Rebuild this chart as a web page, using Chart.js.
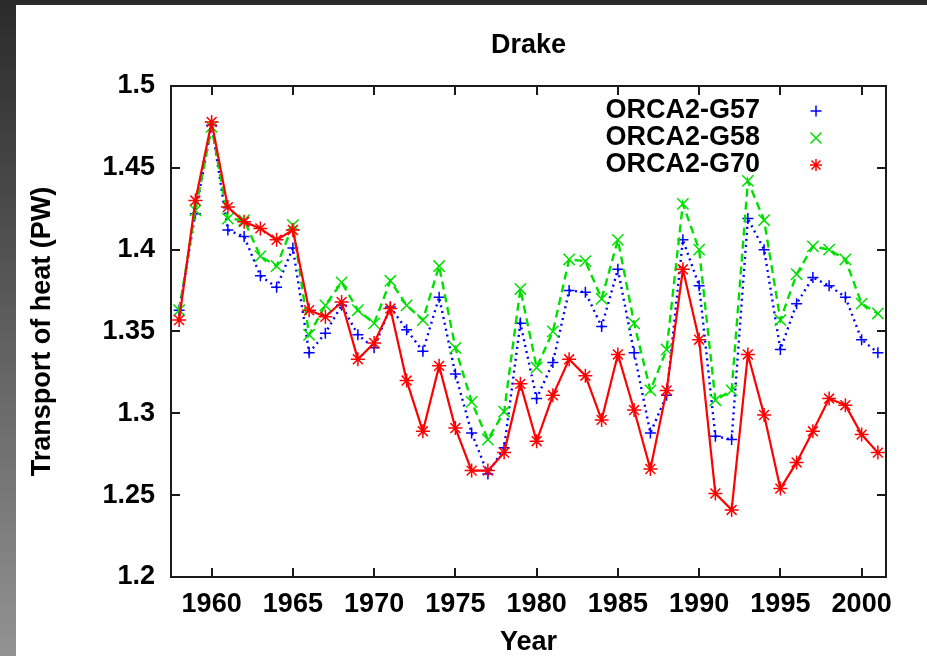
<!DOCTYPE html>
<html>
<head>
<meta charset="utf-8">
<title>Drake</title>
<script src="https://cdn.jsdelivr.net/npm/chart.js@4/dist/chart.umd.min.js"></script>
<style>
    html, body {
        margin: 0;
        padding: 0;
        width: 927px;
        height: 656px;
        overflow: hidden;
        background: linear-gradient(to bottom, #2a2a2a, #929292);
    }
    .sheet {
        position: absolute;
        left: 16px;
        top: 5px;
        width: 911px;
        height: 651px;
        background: #ffffff;
    }
</style>
</head>
<body>
<div class="sheet">
    <canvas id="drakeChart" width="911" height="651"></canvas>
</div>
<script>
// Data
const years = [
    1958, 1959, 1960, 1961, 1962, 1963, 1964, 1965, 1966, 1967, 1968,
    1969, 1970, 1971, 1972, 1973, 1974, 1975, 1976, 1977, 1978, 1979,
    1980, 1981, 1982, 1983, 1984, 1985, 1986, 1987, 1988, 1989, 1990,
    1991, 1992, 1993, 1994, 1995, 1996, 1997, 1998, 1999, 2000, 2001
];

const orcaG57 = [
    1.363, 1.422, 1.476, 1.412, 1.408, 1.384, 1.377, 1.401, 1.337, 1.349, 1.366,
    1.348, 1.340, 1.365, 1.351, 1.338, 1.371, 1.324, 1.288, 1.263, 1.279, 1.355,
    1.309, 1.331, 1.375, 1.374, 1.353, 1.388, 1.337, 1.288, 1.311, 1.406, 1.378,
    1.286, 1.284, 1.419, 1.400, 1.339, 1.367, 1.383, 1.378, 1.371, 1.345, 1.337
];

const orcaG58 = [
    1.363, 1.424, 1.475, 1.419, 1.418, 1.396, 1.390, 1.415, 1.348, 1.366, 1.380,
    1.363, 1.355, 1.381, 1.366, 1.357, 1.390, 1.340, 1.307, 1.284, 1.301, 1.376,
    1.328, 1.350, 1.394, 1.393, 1.370, 1.406, 1.355, 1.314, 1.339, 1.428, 1.400,
    1.308, 1.314, 1.442, 1.418, 1.357, 1.385, 1.402, 1.400, 1.394, 1.367, 1.361
];

const orcaG70 = [
    1.357, 1.430, 1.478, 1.426, 1.417, 1.413, 1.406, 1.412, 1.363, 1.359, 1.368,
    1.333, 1.343, 1.364, 1.320, 1.289, 1.329, 1.291, 1.265, 1.265, 1.276, 1.318,
    1.283, 1.311, 1.333, 1.323, 1.296, 1.336, 1.302, 1.266, 1.314, 1.388, 1.345,
    1.251, 1.241, 1.336, 1.299, 1.254, 1.270, 1.289, 1.309, 1.305, 1.287, 1.276
];

const seriesNames = ['ORCA2-G57', 'ORCA2-G58', 'ORCA2-G70'];
const yTicks = [1.2, 1.25, 1.3, 1.35, 1.4, 1.45, 1.5];
const xTicks = [1960, 1965, 1970, 1975, 1980, 1985, 1990, 1995, 2000];

// Chart Configuration
const CONFIG = {
    colors: {
        g57: '#0000ff',
        g58: '#00e000',
        g70: '#ff0000',
        text: '#000000',
        frame: '#1a1a1a'
    },
    font: {
        family: '"Liberation Sans", Arial, Helvetica, sans-serif',
        size: 27,
        weight: 'bold'
    },
    tickLength: 9
};

function toPoints(values) {
    return values.map((v, i) => ({ x: years[i], y: v }));
}

function formatTick(value) {
    return String(Number(value.toFixed(2)));
}

// Marker drawing, gnuplot style (+, x, *)
function drawMarker(ctx, style, x, y, r) {
    ctx.beginPath();
    if (style === 'cross' || style === 'star') {
        ctx.moveTo(x - r, y);
        ctx.lineTo(x + r, y);
        ctx.moveTo(x, y - r);
        ctx.lineTo(x, y + r);
    }
    if (style === 'crossRot' || style === 'star') {
        const d = style === 'star' ? r * 0.75 : r;
        ctx.moveTo(x - d, y - d);
        ctx.lineTo(x + d, y + d);
        ctx.moveTo(x - d, y + d);
        ctx.lineTo(x + d, y - d);
    }
    ctx.stroke();
}

// Frame + inward ticks, title and legend
const gnuplotDecor = {
    id: 'gnuplotDecor',
    beforeDatasetsDraw(chart) {
        const ctx = chart.ctx;
        const area = chart.chartArea;
        const xs = chart.scales.x;
        const ys = chart.scales.y;
        const tl = CONFIG.tickLength;

        ctx.save();
        ctx.strokeStyle = CONFIG.colors.frame;
        ctx.lineWidth = 2;
        ctx.strokeRect(area.left, area.top, area.right - area.left, area.bottom - area.top);

        ctx.beginPath();
        xTicks.forEach(t => {
            const px = Math.round(xs.getPixelForValue(t));
            ctx.moveTo(px, area.bottom);
            ctx.lineTo(px, area.bottom - tl);
            ctx.moveTo(px, area.top);
            ctx.lineTo(px, area.top + tl);
        });
        yTicks.forEach(t => {
            const py = Math.round(ys.getPixelForValue(t));
            ctx.moveTo(area.left, py);
            ctx.lineTo(area.left + tl, py);
            ctx.moveTo(area.right, py);
            ctx.lineTo(area.right - tl, py);
        });
        ctx.stroke();
        ctx.restore();
    },
    afterDraw(chart) {
        const ctx = chart.ctx;
        const area = chart.chartArea;
        const f = CONFIG.font;

        ctx.save();
        ctx.fillStyle = CONFIG.colors.text;
        ctx.font = `${f.weight} ${f.size}px ${f.family}`;
        ctx.textBaseline = 'middle';

        // Title
        ctx.textAlign = 'center';
        ctx.fillText('Drake', (area.left + area.right) / 2, 41);

        // Legend
        const styles = ['cross', 'crossRot', 'star'];
        const colors = [CONFIG.colors.g57, CONFIG.colors.g58, CONFIG.colors.g70];
        const sizes = [5.5, 5.5, 6];
        const rowY = [106, 133, 160];
        ctx.textAlign = 'right';
        seriesNames.forEach((name, i) => {
            ctx.fillStyle = CONFIG.colors.text;
            ctx.fillText(name, 744, rowY[i]);
            ctx.strokeStyle = colors[i];
            ctx.lineWidth = 1.5;
            drawMarker(ctx, styles[i], 800, rowY[i], sizes[i]);
        });
        ctx.restore();
    }
};

// Draw the chart
function setupChart() {
    const tickFont = { family: CONFIG.font.family, size: CONFIG.font.size, weight: CONFIG.font.weight };

    new Chart(document.getElementById('drakeChart').getContext('2d'), {
        type: 'line',
        data: {
            datasets: [
                {
                    label: seriesNames[2],
                    data: toPoints(orcaG70),
                    borderColor: CONFIG.colors.g70,
                    borderWidth: 2.2,
                    pointStyle: 'star',
                    pointRadius: 7,
                    pointBorderWidth: 1.5,
                    pointBorderColor: CONFIG.colors.g70,
                    pointBackgroundColor: CONFIG.colors.g70,
                    tension: 0,
                    order: 0
                },
                {
                    label: seriesNames[1],
                    data: toPoints(orcaG58),
                    borderColor: CONFIG.colors.g58,
                    borderWidth: 2.4,
                    borderDash: [8, 5],
                    pointStyle: 'crossRot',
                    pointRadius: 8,
                    pointBorderWidth: 1.5,
                    pointBorderColor: CONFIG.colors.g58,
                    tension: 0,
                    order: 1
                },
                {
                    label: seriesNames[0],
                    data: toPoints(orcaG57),
                    borderColor: CONFIG.colors.g57,
                    borderWidth: 2.4,
                    borderDash: [2, 4],
                    pointStyle: 'cross',
                    pointRadius: 5.5,
                    pointBorderWidth: 1.5,
                    pointBorderColor: CONFIG.colors.g57,
                    tension: 0,
                    order: 2
                }
            ]
        },
        options: {
            responsive: false,
            animation: false,
            devicePixelRatio: 1,
            layout: {
                padding: { top: 81, right: 41, left: 0, bottom: 0 }
            },
            plugins: {
                legend: { display: false },
                title: { display: false },
                tooltip: { enabled: false }
            },
            scales: {
                x: {
                    type: 'linear',
                    min: 1957.5,
                    max: 2001.5,
                    afterFit: scale => { scale.height = 79; },
                    afterBuildTicks: scale => {
                        scale.ticks = xTicks.map(v => ({ value: v }));
                    },
                    grid: { display: false, drawTicks: false },
                    border: { display: false },
                    ticks: {
                        font: tickFont,
                        color: CONFIG.colors.text,
                        padding: 11,
                        maxRotation: 0,
                        autoSkip: false,
                        callback: v => String(v)
                    },
                    title: {
                        display: true,
                        text: 'Year',
                        font: tickFont,
                        color: CONFIG.colors.text,
                        padding: { top: 0, bottom: -3 }
                    }
                },
                y: {
                    min: 1.2,
                    max: 1.5,
                    afterFit: scale => { scale.width = 155; },
                    afterBuildTicks: scale => {
                        scale.ticks = yTicks.map(v => ({ value: v }));
                    },
                    grid: { display: false, drawTicks: false },
                    border: { display: false },
                    ticks: {
                        font: tickFont,
                        color: CONFIG.colors.text,
                        padding: 16,
                        callback: v => formatTick(v)
                    },
                    title: {
                        display: true,
                        text: 'Transport of heat (PW)',
                        font: tickFont,
                        color: CONFIG.colors.text,
                        padding: { top: 10, bottom: 0 }
                    }
                }
            }
        },
        plugins: [gnuplotDecor]
    });
}

document.addEventListener('DOMContentLoaded', setupChart);
</script>
</body>
</html>
